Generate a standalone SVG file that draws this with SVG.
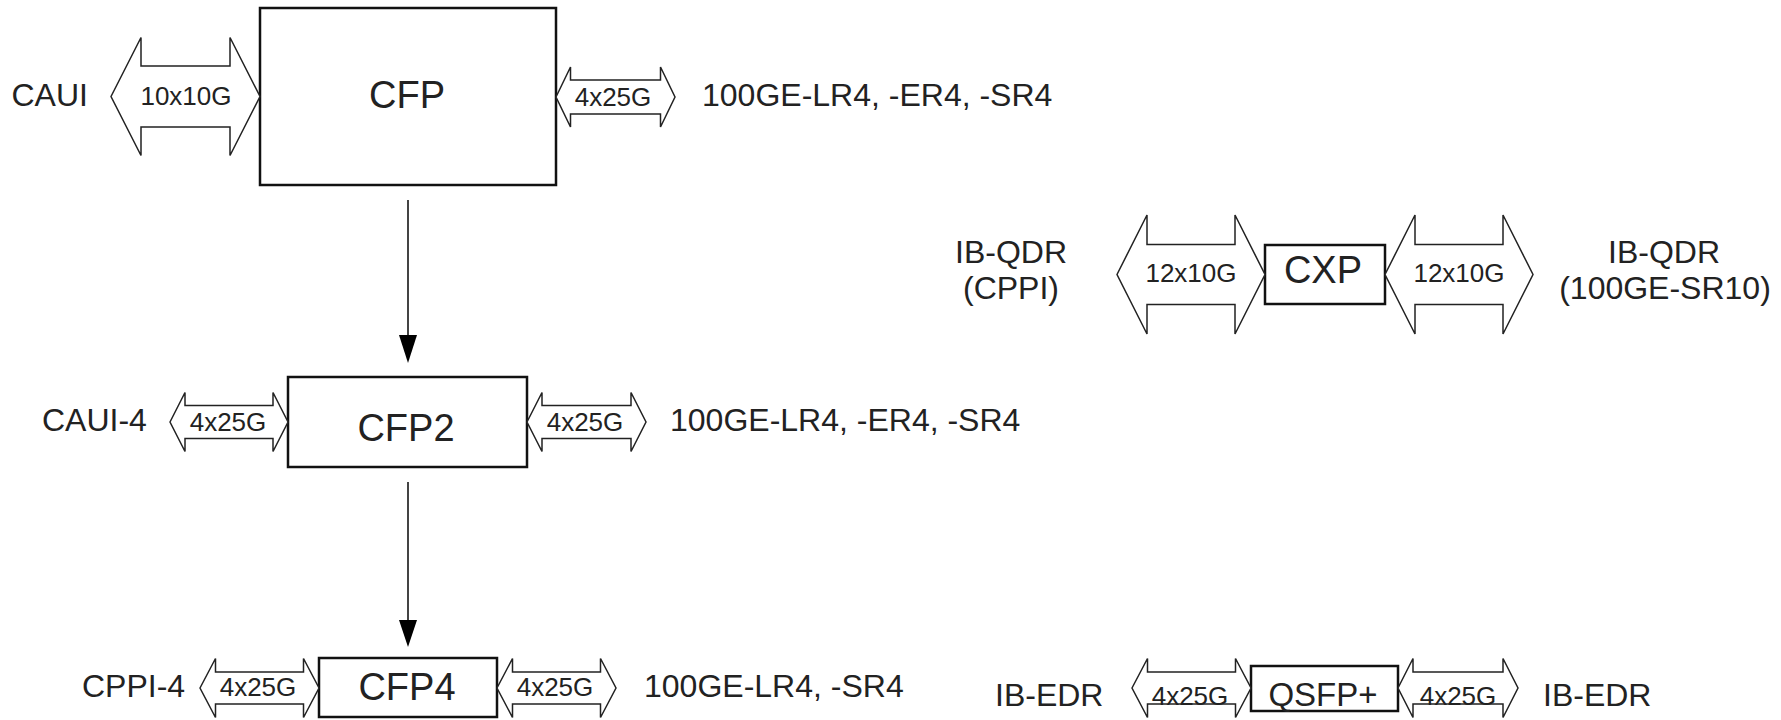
<svg xmlns="http://www.w3.org/2000/svg" width="1781" height="720" viewBox="0 0 1781 720">
<style>
text { font-family: "Liberation Sans", Arial, sans-serif; fill: #222; }
.lbl { font-size: 32px; }
.big { font-size: 38px; text-anchor: middle; }
.sm { font-size: 26px; text-anchor: middle; }
.mid { text-anchor: middle; }
.box { fill: #fff; stroke: #111; stroke-width: 2.5; }
.dar { fill: #fff; stroke: #222; stroke-width: 1.5; stroke-linejoin: miter; }
.conn { stroke: #444; stroke-width: 2; fill: none; }
.head { fill: #000; }
</style>
<rect width="1781" height="720" fill="#fff"/>

<g id="connectors">
  <line class="conn" x1="408" y1="200" x2="408" y2="337"/>
  <polygon class="head" points="399,335 417,335 408,363"/>
  <line class="conn" x1="408" y1="482" x2="408" y2="622"/>
  <polygon class="head" points="399,620 417,620 408,647"/>
</g>

<g id="cfp">
  <rect class="box" x="260" y="8" width="296" height="177"/>
  <text class="big" x="407" y="108">CFP</text>
</g>
<g id="cfp-left-link">
  <path class="dar" d="M111,96.5 L141,37.5 L141,66 L230,66 L230,37.5 L260,96.5 L230,155.5 L230,127 L141,127 L141,155.5 Z"/>
  <text class="sm" x="186" y="105">10x10G</text>
</g>
<g id="cfp-right-link">
  <path class="dar" d="M556,97 L570.5,67 L570.5,80 L660.5,80 L660.5,67 L675,97 L660.5,127 L660.5,114 L570.5,114 L570.5,127 Z"/>
  <text class="sm" x="613" y="106">4x25G</text>
</g>
<g id="caui"><text class="lbl" x="11.5" y="106">CAUI</text></g>
<g id="cfp-optics"><text class="lbl" x="702" y="106">100GE-LR4, -ER4, -SR4</text></g>

<g id="cfp2">
  <rect class="box" x="288" y="377" width="239" height="90"/>
  <text class="big" x="406" y="441">CFP2</text>
</g>
<g id="cfp2-left-link">
  <path class="dar" d="M170,422 L185,392.5 L185,405.5 L273,405.5 L273,392.5 L288,422 L273,451.5 L273,438.5 L185,438.5 L185,451.5 Z"/>
  <text class="sm" x="228" y="431">4x25G</text>
</g>
<g id="cfp2-right-link">
  <path class="dar" d="M527,422 L542,392.5 L542,405.5 L631,405.5 L631,392.5 L646,422 L631,451.5 L631,438.5 L542,438.5 L542,451.5 Z"/>
  <text class="sm" x="585" y="431">4x25G</text>
</g>
<g id="caui4"><text class="lbl" x="42" y="431">CAUI-4</text></g>
<g id="cfp2-optics"><text class="lbl" x="670" y="431">100GE-LR4, -ER4, -SR4</text></g>

<g id="cfp4">
  <rect class="box" x="319" y="658" width="178" height="59"/>
  <text class="big" x="407" y="700">CFP4</text>
</g>
<g id="cfp4-left-link">
  <path class="dar" d="M200,688 L215.5,658.5 L215.5,672 L303.5,672 L303.5,658.5 L319,688 L303.5,717.5 L303.5,704 L215.5,704 L215.5,717.5 Z"/>
  <text class="sm" x="258" y="696">4x25G</text>
</g>
<g id="cfp4-right-link">
  <path class="dar" d="M497,688 L512.5,658.5 L512.5,672 L600.5,672 L600.5,658.5 L616,688 L600.5,717.5 L600.5,704 L512.5,704 L512.5,717.5 Z"/>
  <text class="sm" x="555" y="696">4x25G</text>
</g>
<g id="cppi4"><text class="lbl" x="82" y="697">CPPI-4</text></g>
<g id="cfp4-optics"><text class="lbl" x="644" y="697">100GE-LR4, -SR4</text></g>

<g id="cxp">
  <rect class="box" x="1265" y="245" width="120" height="59"/>
  <text class="big" x="1323" y="283">CXP</text>
</g>
<g id="cxp-left-link">
  <path class="dar" d="M1117,274.5 L1147,215 L1147,244.5 L1235,244.5 L1235,215 L1265,274.5 L1235,334 L1235,304.5 L1147,304.5 L1147,334 Z"/>
  <text class="sm" x="1191" y="282">12x10G</text>
</g>
<g id="cxp-right-link">
  <path class="dar" d="M1385,274.5 L1415,215 L1415,244.5 L1503,244.5 L1503,215 L1533,274.5 L1503,334 L1503,304.5 L1415,304.5 L1415,334 Z"/>
  <text class="sm" x="1459" y="282">12x10G</text>
</g>
<g id="ibqdr-left">
  <text class="lbl mid" x="1011" y="263">IB-QDR</text>
  <text class="lbl mid" x="1011" y="299">(CPPI)</text>
</g>
<g id="ibqdr-right">
  <text class="lbl mid" x="1664" y="263">IB-QDR</text>
  <text class="lbl mid" x="1665" y="299">(100GE-SR10)</text>
</g>

<g id="qsfp">
  <rect class="box" x="1251" y="666" width="147" height="45"/>
  <text class="lbl mid" x="1323" y="706" style="font-size:33px">QSFP+</text>
</g>
<g id="qsfp-left-link">
  <path class="dar" d="M1132,688 L1147.5,658.5 L1147.5,672 L1235.5,672 L1235.5,658.5 L1251,688 L1235.5,717.5 L1235.5,704 L1147.5,704 L1147.5,717.5 Z"/>
  <text class="sm" x="1190" y="705">4x25G</text>
</g>
<g id="qsfp-right-link">
  <path class="dar" d="M1398,688 L1413,658.5 L1413,672 L1503,672 L1503,658.5 L1518,688 L1503,717.5 L1503,704 L1413,704 L1413,717.5 Z"/>
  <text class="sm" x="1458" y="705">4x25G</text>
</g>
<g id="ibedr-left"><text class="lbl" x="995" y="706">IB-EDR</text></g>
<g id="ibedr-right"><text class="lbl" x="1543" y="706">IB-EDR</text></g>
</svg>
